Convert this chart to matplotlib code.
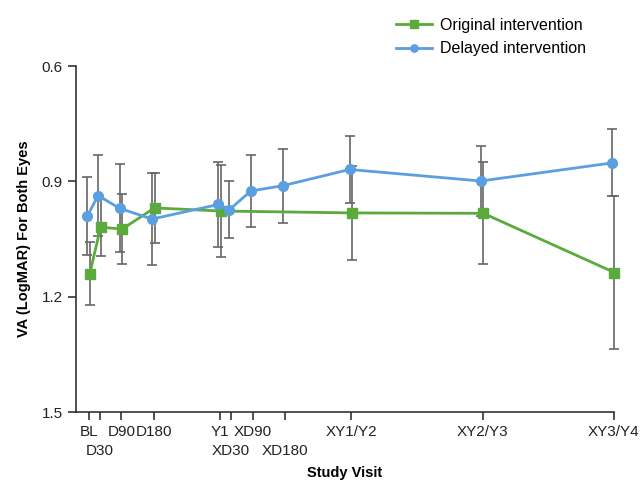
import numpy as np
import matplotlib.pyplot as plt

plt.rcParams['font.family'] = ['Liberation Sans', 'DejaVu Sans']

# study visits (days from baseline); upper-row and lower-row labels
top_days = [0, 90, 180, 365, 455, 730, 1095, 1460]
top_labels = ['BL', 'D90', 'D180', 'Y1', 'XD90', 'XY1/Y2', 'XY2/Y3', 'XY3/Y4']
low_days = [30, 395, 545]
low_labels = ['D30', 'XD30', 'XD180']

# original intervention group
orig_days = [0, 30, 90, 180, 365, 730, 1095, 1460]
orig_va = [1.140, 1.019, 1.024, 0.969, 0.977, 0.982, 0.983, 1.137]
orig_err = [0.082, 0.074, 0.090, 0.092, 0.120, 0.123, 0.133, 0.200]

# delayed intervention group
delay_days = [0, 30, 90, 180, 365, 395, 455, 545, 730, 1095, 1460]
delay_va = [0.990, 0.937, 0.970, 0.998, 0.960, 0.974, 0.925, 0.911, 0.869, 0.899, 0.852]
delay_err = [0.102, 0.105, 0.114, 0.120, 0.110, 0.074, 0.094, 0.096, 0.086, 0.092, 0.087]

green = '#5aaa3c'
blue = '#5b9fe0'

fig = plt.figure(figsize=(6.4, 4.82), dpi=100)
ax = fig.add_axes([0.119, 0.145, 0.840, 0.718])

ax.errorbar(np.array(orig_days) + 2, orig_va, yerr=orig_err, fmt='none',
            ecolor='#666666', elinewidth=1.2, capsize=3.5, capthick=1.2,
            zorder=1, clip_on=False)
ax.errorbar(np.array(delay_days) - 5, delay_va, yerr=delay_err, fmt='none',
            ecolor='#666666', elinewidth=1.2, capsize=3.5, capthick=1.2,
            zorder=1, clip_on=False)

ax.plot(np.array(orig_days) + 2, orig_va, color=green, marker='s', markersize=7,
        linewidth=2, label='Original intervention', zorder=3, clip_on=False)
ax.plot(np.array(delay_days) - 5, delay_va, color=blue, marker='o', markersize=7,
        linewidth=2, label='Delayed intervention', zorder=3, clip_on=False)

ax.set_xlim(-36, 1460)
ax.set_ylim(1.5, 0.6)
ax.set_yticks([0.6, 0.9, 1.2, 1.5])
ax.set_yticklabels(['0.6', '0.9', '1.2', '1.5'])
ax.set_xticks(top_days)
ax.set_xticklabels(top_labels)
ax.set_xticks(low_days, minor=True)
ax.set_xticklabels(low_labels, minor=True)

for side in ['top', 'right']:
    ax.spines[side].set_visible(False)
for side in ['left', 'bottom']:
    ax.spines[side].set_color('#333333')
    ax.spines[side].set_linewidth(1.2)
ax.tick_params(axis='both', which='both', direction='out', length=6, width=1.2,
               color='#333333', labelsize=11, labelcolor='#222222')
ax.tick_params(axis='x', which='major', pad=3)
ax.tick_params(axis='x', which='minor', pad=17)

ax.set_xlabel('Study Visit', fontsize=10.5, fontweight='bold', labelpad=6)
ax.set_ylabel('VA (LogMAR) For Both Eyes', fontsize=10.5, fontweight='bold', labelpad=8)

ax.legend(loc='lower left', bbox_to_anchor=(0.578, 1.0), frameon=False, fontsize=11.5,
          handlelength=2.2, handletextpad=0.5, borderaxespad=0.2, labelspacing=0.55,
          markerscale=0.75)

fig.savefig('out.png', dpi=100)
